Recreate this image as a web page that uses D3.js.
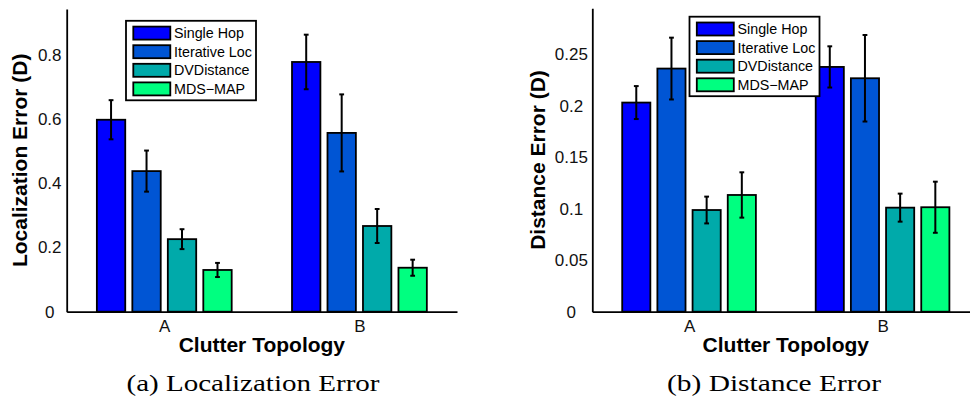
<!DOCTYPE html>
<html>
<head>
<meta charset="utf-8">
<script src="https://cdn.jsdelivr.net/npm/d3@7"></script>
<style>
body{margin:0;background:#fff;overflow:hidden}
svg{display:block}
</style>
</head>
<body>
<script>
// values
const categories = ["A", "B"];
const methods = ["Single Hop", "Iterative Loc", "DVDistance", "MDS\u2212MAP"];
const colors = ["#0000ff", "#0055d4", "#00aaaa", "#00ff80"];

const locMeanA = [0.598, 0.438, 0.226, 0.130];
const locErrA  = [0.061, 0.064, 0.031, 0.022];
const locMeanB = [0.778, 0.557, 0.267, 0.137];
const locErrB  = [0.085, 0.120, 0.053, 0.025];
const locTicks = [0, 0.2, 0.4, 0.6, 0.8];
const locMax = 0.943;

const distMeanA = [0.203, 0.236, 0.0987, 0.1133];
const distErrA  = [0.016, 0.030, 0.013, 0.022];
const distMeanB = [0.2376, 0.2266, 0.101, 0.1014];
const distErrB  = [0.020, 0.042, 0.0136, 0.0248];
const distTicks = [0, 0.05, 0.1, 0.15, 0.2, 0.25];
const distMax = 0.2945;

const sans = '"Liberation Sans", Arial, Helvetica, sans-serif';
const serif = '"Liberation Serif", "Times New Roman", serif';

const svg = d3.select("body")
	.append("svg")
	.attr("width", 970)
	.attr("height", 399);

function drawChart(o){
	const g = svg.append("g");
	const x = d3.scaleLinear().domain([0.5, 2.5]).range([o.left, o.right]);
	const y = d3.scaleLinear().domain([0, o.yMax]).range([o.bottom, o.top]);

	// matlab style grouped bars
	const gw = methods.length / (methods.length + 1.5);
	const inner = d3.scaleBand()
		.domain(methods)
		.range([-gw / 2, gw / 2])
		.paddingInner(0.2)
		.paddingOuter(0.1);

	const rows = [];
	categories.forEach(function(c, i){
		methods.forEach(function(m, j){
			rows.push({ci: i + 1, m: m, j: j, v: o.means[i][j], e: o.errs[i][j]});
		});
	});

	g.selectAll(".bar")
		.data(rows)
		.enter().append("rect")
		.attr("class", "bar")
		.attr("x", function(d){ return x(d.ci + inner(d.m)); })
		.attr("width", function(d){ return x(d.ci + inner(d.m) + inner.bandwidth()) - x(d.ci + inner(d.m)); })
		.attr("y", function(d){ return y(d.v); })
		.attr("height", function(d){ return y(0) - y(d.v); })
		.attr("fill", function(d){ return colors[d.j]; })
		.attr("stroke", "#000")
		.attr("stroke-width", 1.8);

	//error bars
	const eb = g.selectAll(".err")
		.data(rows)
		.enter().append("g")
		.attr("class", "err")
		.attr("transform", function(d){ return "translate(" + x(d.ci + inner(d.m) + inner.bandwidth() / 2) + ",0)"; })
		.attr("stroke", "#000")
		.attr("stroke-width", 2);
	eb.append("line")
		.attr("y1", function(d){ return y(d.v - d.e); })
		.attr("y2", function(d){ return y(d.v + d.e); });
	eb.append("line")
		.attr("x1", -2.4).attr("x2", 2.4)
		.attr("y1", function(d){ return y(d.v + d.e); })
		.attr("y2", function(d){ return y(d.v + d.e); });
	eb.append("line")
		.attr("x1", -2.4).attr("x2", 2.4)
		.attr("y1", function(d){ return y(d.v - d.e); })
		.attr("y2", function(d){ return y(d.v - d.e); });

	//axes
	const xAxis = g.append("g")
		.attr("transform", "translate(0," + o.bottom + ")")
		.call(d3.axisBottom(x)
			.tickValues([1, 2])
			.tickFormat(function(d, i){ return categories[i]; })
			.tickSize(0)
			.tickPadding(8));
	const yAxis = g.append("g")
		.attr("transform", "translate(" + o.left + ",0)")
		.call(d3.axisLeft(y)
			.tickValues(o.ticks)
			.tickFormat(function(d){ return String(d); })
			.tickSize(0));
	[xAxis, yAxis].forEach(function(a){
		a.select(".domain").attr("stroke", "#000").attr("stroke-width", 1.8);
		a.selectAll("text").attr("font-family", sans).attr("font-size", 17).attr("fill", "#111");
	});
	yAxis.selectAll("text")
		.attr("text-anchor", "middle")
		.attr("x", -o.tickOffset);

	//titles
	g.append("text")
		.attr("transform", "translate(" + o.yTitleX + "," + (o.top + o.bottom) / 2 + ") rotate(-90)")
		.attr("text-anchor", "middle")
		.attr("font-family", sans)
		.attr("font-weight", "bold")
		.attr("font-size", 21)
		.text(o.yTitle);
	g.append("text")
		.attr("x", (o.left + o.right) / 2)
		.attr("y", 352)
		.attr("text-anchor", "middle")
		.attr("font-family", sans)
		.attr("font-weight", "bold")
		.attr("font-size", 21)
		.text("Clutter Topology");
	g.append("text")
		.attr("x", o.capX - o.capW / 2)
		.attr("y", 391)
		.attr("font-family", serif)
		.attr("font-size", 23)
		.attr("textLength", o.capW)
		.attr("lengthAdjust", "spacingAndGlyphs")
		.text(o.caption);

	//legend
	const lg = g.append("g")
		.attr("transform", "translate(" + o.legX + "," + o.legY + ")");
	lg.append("rect")
		.attr("width", 130)
		.attr("height", 79.5)
		.attr("fill", "#fff")
		.attr("stroke", "#000")
		.attr("stroke-width", 1.8);
	const item = lg.selectAll(".item")
		.data(methods)
		.enter().append("g")
		.attr("transform", function(d, i){ return "translate(0," + (12.3 + i * 18.6) + ")"; });
	item.append("rect")
		.attr("x", 7.3)
		.attr("y", -6.5)
		.attr("width", 37)
		.attr("height", 13)
		.attr("fill", function(d, i){ return colors[i]; })
		.attr("stroke", "#000")
		.attr("stroke-width", 1.8);
	item.append("text")
		.attr("x", 48)
		.attr("dy", "0.36em")
		.attr("font-family", sans)
		.attr("font-size", 14.3)
		.text(function(d){ return d; });
}

drawChart({
	left: 66.7, right: 457, top: 9, bottom: 311.7,
	yMax: locMax, ticks: locTicks,
	means: [locMeanA, locMeanB], errs: [locErrA, locErrB],
	tickOffset: 17, yTitleX: 27, yTitle: "Localization Error (D)",
	legX: 126, legY: 20.8,
	caption: "(a) Localization Error", capX: 253, capW: 253
});

drawChart({
	left: 592.3, right: 979.3, top: 8.3, bottom: 311.7,
	yMax: distMax, ticks: distTicks,
	means: [distMeanA, distMeanB], errs: [distErrA, distErrB],
	tickOffset: 21, yTitleX: 545, yTitle: "Distance Error (D)",
	legX: 689.5, legY: 16.7,
	caption: "(b) Distance Error", capX: 774, capW: 214
});
</script>
</body>
</html>
